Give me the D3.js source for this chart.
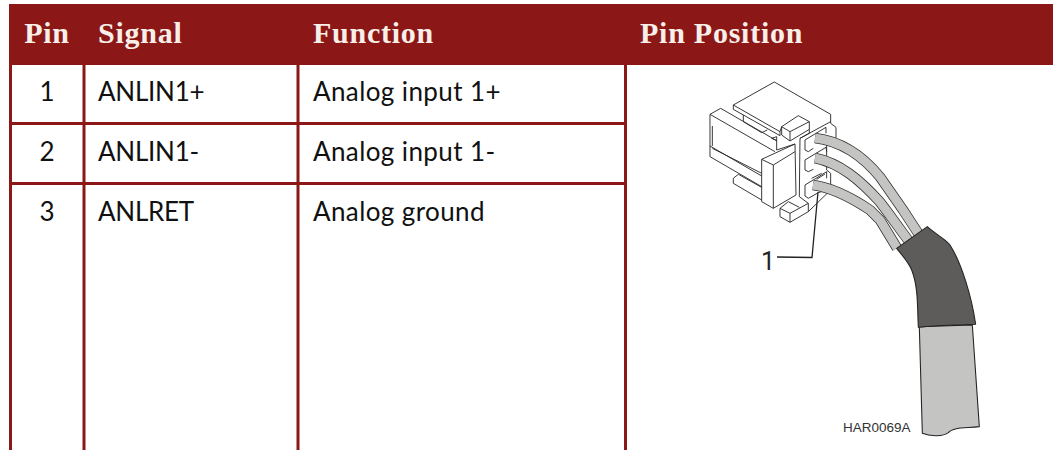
<!DOCTYPE html>
<html>
<head>
<meta charset="utf-8">
<script src="https://cdn.jsdelivr.net/npm/d3@7/dist/d3.min.js"></script>
<style>html,body{margin:0;padding:0;background:#fff;overflow:hidden}svg{display:block}</style>
</head>
<body>
<svg id="c" width="1053" height="450"></svg>
<script>
const headers = ["Pin", "Signal", "Function", "Pin Position"];
const pins = ["1", "2", "3"];
const signals = ["ANLIN1+", "ANLIN1-", "ANLRET"];
const functions = ["Analog input 1+", "Analog input 1-", "Analog ground"];
const partLabel = "1";
const drawingCode = "HAR0069A";

const RED = "#8b1717", INK = "#111";
const svg = d3.select("#c");
const colEdges = d3.scaleOrdinal().domain(d3.range(5)).range([10.5, 84, 298, 625.5, 1053]);
const rowY = d3.scalePoint().domain(pins).range([92, 212]);
const rowLines = [123.5, 183.5];
const textX = d3.scaleOrdinal().domain(d3.range(4)).range([47, 98, 313, 640]);
const colSpacing = [0, -0.25, 0.4];

// header band
svg.append("rect").attr("x", 9).attr("y", 4).attr("width", 1044).attr("height", 61).attr("fill", RED);

// grid
svg.selectAll(".v").data(d3.range(4)).join("line")
  .attr("x1", d => colEdges(d)).attr("x2", d => colEdges(d))
  .attr("y1", 65).attr("y2", 450).attr("stroke", RED).attr("stroke-width", 3);
svg.selectAll(".h").data(rowLines).join("line")
  .attr("x1", 10).attr("x2", 625).attr("y1", d => d).attr("y2", d => d)
  .attr("stroke", RED).attr("stroke-width", 3);

// header text
svg.selectAll(".hd").data(headers).join("text")
  .attr("x", (d, i) => textX(i)).attr("y", 43)
  .attr("text-anchor", (d, i) => i === 0 ? "middle" : "start")
  .attr("font-family", "'Liberation Serif', serif").attr("font-weight", "bold")
  .attr("font-size", 30).attr("letter-spacing", 0.75).attr("fill", "#f7efe8").text(d => d);

// body text
const body = "Lato, 'Noto Sans', sans-serif";
[pins, signals, functions].forEach((col, c) => {
  svg.append("g").selectAll("text").data(col).join("text")
    .attr("x", textX(c)).attr("y", (d, i) => rowY(pins[i]) + 9)
    .attr("text-anchor", c === 0 ? "middle" : "start")
    .attr("letter-spacing", colSpacing[c])
    .attr("font-family", body).attr("font-size", 26).attr("fill", INK).text(d => d);
});

// connector (drawn in the 3x crop space)
const conn = svg.append("g").attr("transform", "translate(680,70) scale(0.3333)")
  .attr("fill", "none").attr("stroke", "#2a2a2a").attr("stroke-width", 2.8).attr("stroke-linejoin", "round");
const connectorLines = [
  "M160,105 L283,36 L452,133 L452,160 L468,172 L468,205 L440,222 L440,300 L452,310 L452,360 L385,425 L385,400",
  "M160,105 L160,118 L300,197 L300,185 L160,105",
  "M190,135 L190,155 L245,188 L262,180",
  "M300,185 L305,170 L355,137 L388,155 L388,178 L330,213 L305,195 L305,170 L330,185 L388,155",
  "M330,185 L330,213",
  "M388,178 L388,190 L360,205 L358,380 L385,400 L330,430 L300,415 L325,395 L358,412",
  "M360,205 L452,155",
  "M330,430 L330,457 L385,425",
  "M300,415 L300,440 L330,457",
  "M90,133 L122,115 L290,212 L275,205 L290,200 L290,240",
  "M90,133 L90,260 L245,350",
  "M90,133 L285,245",
  "M97,168 L97,228",
  "M90,228 L245,318",
  "M97,235 L245,310",
  "M245,268 L345,222 L348,375 L280,415 L245,395 Z",
  "M245,268 L280,285 L345,245",
  "M280,285 L280,415",
  "M290,240 L345,222",
  "M160,325 L175,313 L245,352",
  "M160,325 L160,340 L245,390",
  "M375,210 L408,190 L438,172 L438,190",
  "M375,210 L375,240 L385,245 L400,235",
  "M375,270 L408,250 L438,232 L440,245",
  "M375,270 L375,300 L385,305 L400,298",
  "M375,345 L408,325 L440,305 L440,325",
  "M375,345 L375,378 L385,385 L415,368 L440,360",
  "M395,325 L425,310 M410,328 L435,312"
];
conn.selectAll("path").data(connectorLines).join("path").attr("d", d => d);

// wires
const wires = [
  "M815,138 C840,141 862,155 880,177 L903,210 L920,236",
  "M815,158 C840,163 860,180 880,202 L886,210 L908,240",
  "M813,185 C835,188 855,200 870,210 L880,220 L897,248"
];
const wg = svg.append("g").attr("fill", "none");
wires.forEach(d => {
  wg.append("path").attr("d", d).attr("stroke", "#333").attr("stroke-width", 10.5);
  wg.append("path").attr("d", d).attr("stroke", "#c4c4c2").attr("stroke-width", 9);
});

// leader
svg.append("path").attr("d", "M777,257 L812,257.5 L818,192")
  .attr("fill", "none").attr("stroke", "#222").attr("stroke-width", 1.3);
svg.append("text").attr("x", 761).attr("y", 270).attr("font-family", "Roboto, sans-serif")
  .attr("font-size", 25).attr("fill", "#222").text(partLabel);

// cable + sleeve (drawn in the 3x crop space)
const cable = svg.append("g").attr("transform", "translate(840,210) scale(0.3333)")
  .attr("stroke", "#222").attr("stroke-width", 3.2).attr("stroke-linejoin", "round");
cable.append("path")
  .attr("d", "M238,350 L247,670 C270,680 310,680 325,668 C340,650 380,655 418,650 L397,345 Z")
  .attr("fill", "#c4c4c2");
cable.append("path")
  .attr("d", "M170,115 L262,50 C290,75 320,90 330,105 C365,160 395,260 407,343 C350,345 290,345 235,352 C232,290 235,230 215,180 C205,155 185,135 170,115 Z")
  .attr("fill", "#5d5c5a");

svg.append("text").attr("x", 843).attr("y", 432).attr("font-family", "'Liberation Sans', sans-serif")
  .attr("font-size", 13.5).attr("fill", "#333").text(drawingCode);
</script>
</body>
</html>
